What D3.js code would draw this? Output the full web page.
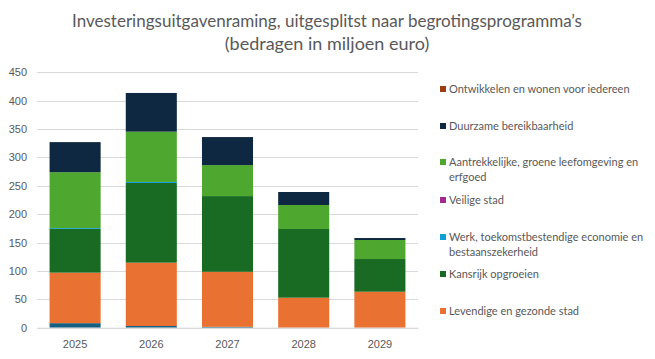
<!DOCTYPE html>
<html><head><meta charset="utf-8">
<script src="https://cdn.jsdelivr.net/npm/d3@7"></script>
<style>body{margin:0;background:#fff}svg{display:block}</style>
</head><body>
<svg id="c" width="655" height="359"></svg>
<script>
const years = ["2025","2026","2027","2028","2029"];
// stack order bottom -> top
const seriesNames = ["Overig","Levendige en gezonde stad","Kansrijk opgroeien","Werk, toekomstbestendige economie en bestaanszekerheid","Veilige stad","Aantrekkelijke, groene leefomgeving en erfgoed","Duurzame bereikbaarheid","Ontwikkelen en wonen voor iedereen"];
const overig      = [8, 3, 1.5, 0, 0];
const levendige   = [89, 111.6, 97, 52.9, 63.4];
const kansrijk    = [77, 140.4, 133.4, 121, 57.6];
const werk        = [1.5, 1.8, 0, 0, 0];
const veilige     = [0, 0, 0, 0, 0];
const aantrekkelijk = [98.5, 88.6, 54.6, 42.3, 33.5];
const duurzaam    = [53, 68.2, 49.4, 22.9, 3.5];
const ontwikkelen = [0, 0, 0, 0, 0];
const yTicks = [0,50,100,150,200,250,300,350,400,450];
const legendNames = ["Ontwikkelen en wonen voor iedereen","Duurzame bereikbaarheid","Aantrekkelijke, groene leefomgeving en erfgoed","Veilige stad","Werk, toekomstbestendige economie en bestaanszekerheid","Kansrijk opgroeien","Levendige en gezonde stad"];

const colors = {
  "Overig":"#156082",
  "Levendige en gezonde stad":"#E97132",
  "Kansrijk opgroeien":"#196B24",
  "Werk, toekomstbestendige economie en bestaanszekerheid":"#0F9ED5",
  "Veilige stad":"#A02B93",
  "Aantrekkelijke, groene leefomgeving en erfgoed":"#4EA72E",
  "Duurzame bereikbaarheid":"#0E2841",
  "Ontwikkelen en wonen voor iedereen":"#9C3D12"
};
const legendLines = {
  "Aantrekkelijke, groene leefomgeving en erfgoed":["Aantrekkelijke, groene leefomgeving en","erfgoed"],
  "Werk, toekomstbestendige economie en bestaanszekerheid":["Werk, toekomstbestendige economie en","bestaanszekerheid"]
};
const allVals = [overig, levendige, kansrijk, werk, veilige, aantrekkelijk, duurzaam, ontwikkelen];
const rows = years.map((y,i)=>{const r={year:y}; seriesNames.forEach((s,k)=>r[s]=allVals[k][i]); return r;});

const svg = d3.select("#c");
const margin = {left:37, right:237, top:72.3, bottom:31.3};
const W = 655, H = 359;
const x = d3.scaleBand().domain(years).range([margin.left, W-margin.right]).paddingInner(0.33).paddingOuter(0.165);
const y = d3.scaleLinear().domain([0,450]).range([H-margin.bottom, margin.top]);

// title
const title = svg.append("text").attr("x",327).attr("text-anchor","middle")
  .attr("font-family","Lato, sans-serif").attr("font-size",18).attr("fill","#595959");
title.append("tspan").attr("x",327).attr("y",27).text("Investeringsuitgavenraming, uitgesplitst naar begrotingsprogramma’s");
title.append("tspan").attr("x",327).attr("y",50).text("(bedragen in miljoen euro)");
title.selectAll("tspan").each(function(){
  const w = this.getComputedTextLength();
  if (this.textContent.length > 40 && w > 510) d3.select(this).attr("textLength",510).attr("lengthAdjust","spacingAndGlyphs");
});

// grid
svg.append("g").selectAll("line").data(yTicks).join("line")
  .attr("x1",margin.left).attr("x2",W-margin.right)
  .attr("y1",d=>Math.round(y(d))+0.5).attr("y2",d=>Math.round(y(d))+0.5)
  .attr("stroke","#d9d9d9").attr("stroke-width",1);

// y axis labels
const yAxis = d3.axisLeft(y).tickValues(yTicks).tickSize(0).tickPadding(8);
const ya = svg.append("g").attr("transform",`translate(${margin.left-2},0)`).call(yAxis);
ya.select(".domain").remove();
ya.selectAll("text").attr("font-family","'Liberation Sans', Arial, sans-serif").attr("font-size",11).attr("fill","#595959");

// stacks
const stack = d3.stack().keys(seriesNames)(rows);
svg.append("g").selectAll("g").data(stack).join("g").attr("fill",d=>colors[d.key])
  .selectAll("rect").data(d=>d).join("rect")
  .attr("x",d=>x(d.data.year)).attr("width",x.bandwidth())
  .attr("y",d=>y(d[1])).attr("height",d=>Math.max(0,y(d[0])-y(d[1])));

// x axis
const xAxis = d3.axisBottom(x).tickSize(0).tickPadding(10);
const xa = svg.append("g").attr("transform",`translate(0,${H-margin.bottom})`).call(xAxis);
xa.select(".domain").attr("stroke","#d9d9d9");
xa.selectAll("text").attr("font-family","'Liberation Sans', Arial, sans-serif").attr("font-size",11).attr("fill","#595959").attr("dy","0.9em");

// legend
const legY = [89,126,162,200,237,274,311];
const lg = svg.append("g");
legendNames.forEach((n,i)=>{
  const g = lg.append("g").attr("transform",`translate(440,${legY[i]})`);
  g.append("rect").attr("x",0).attr("y",-3).attr("width",6).attr("height",6).attr("fill",colors[n]);
  const lines = legendLines[n] || [n];
  lines.forEach((t,j)=>{
    g.append("text").attr("x",9).attr("y",j*15).attr("dy","0.35em")
      .attr("font-family","Lato, sans-serif").attr("font-size",11).attr("fill","#595959").text(t);
  });
});
</script>
</body></html>
